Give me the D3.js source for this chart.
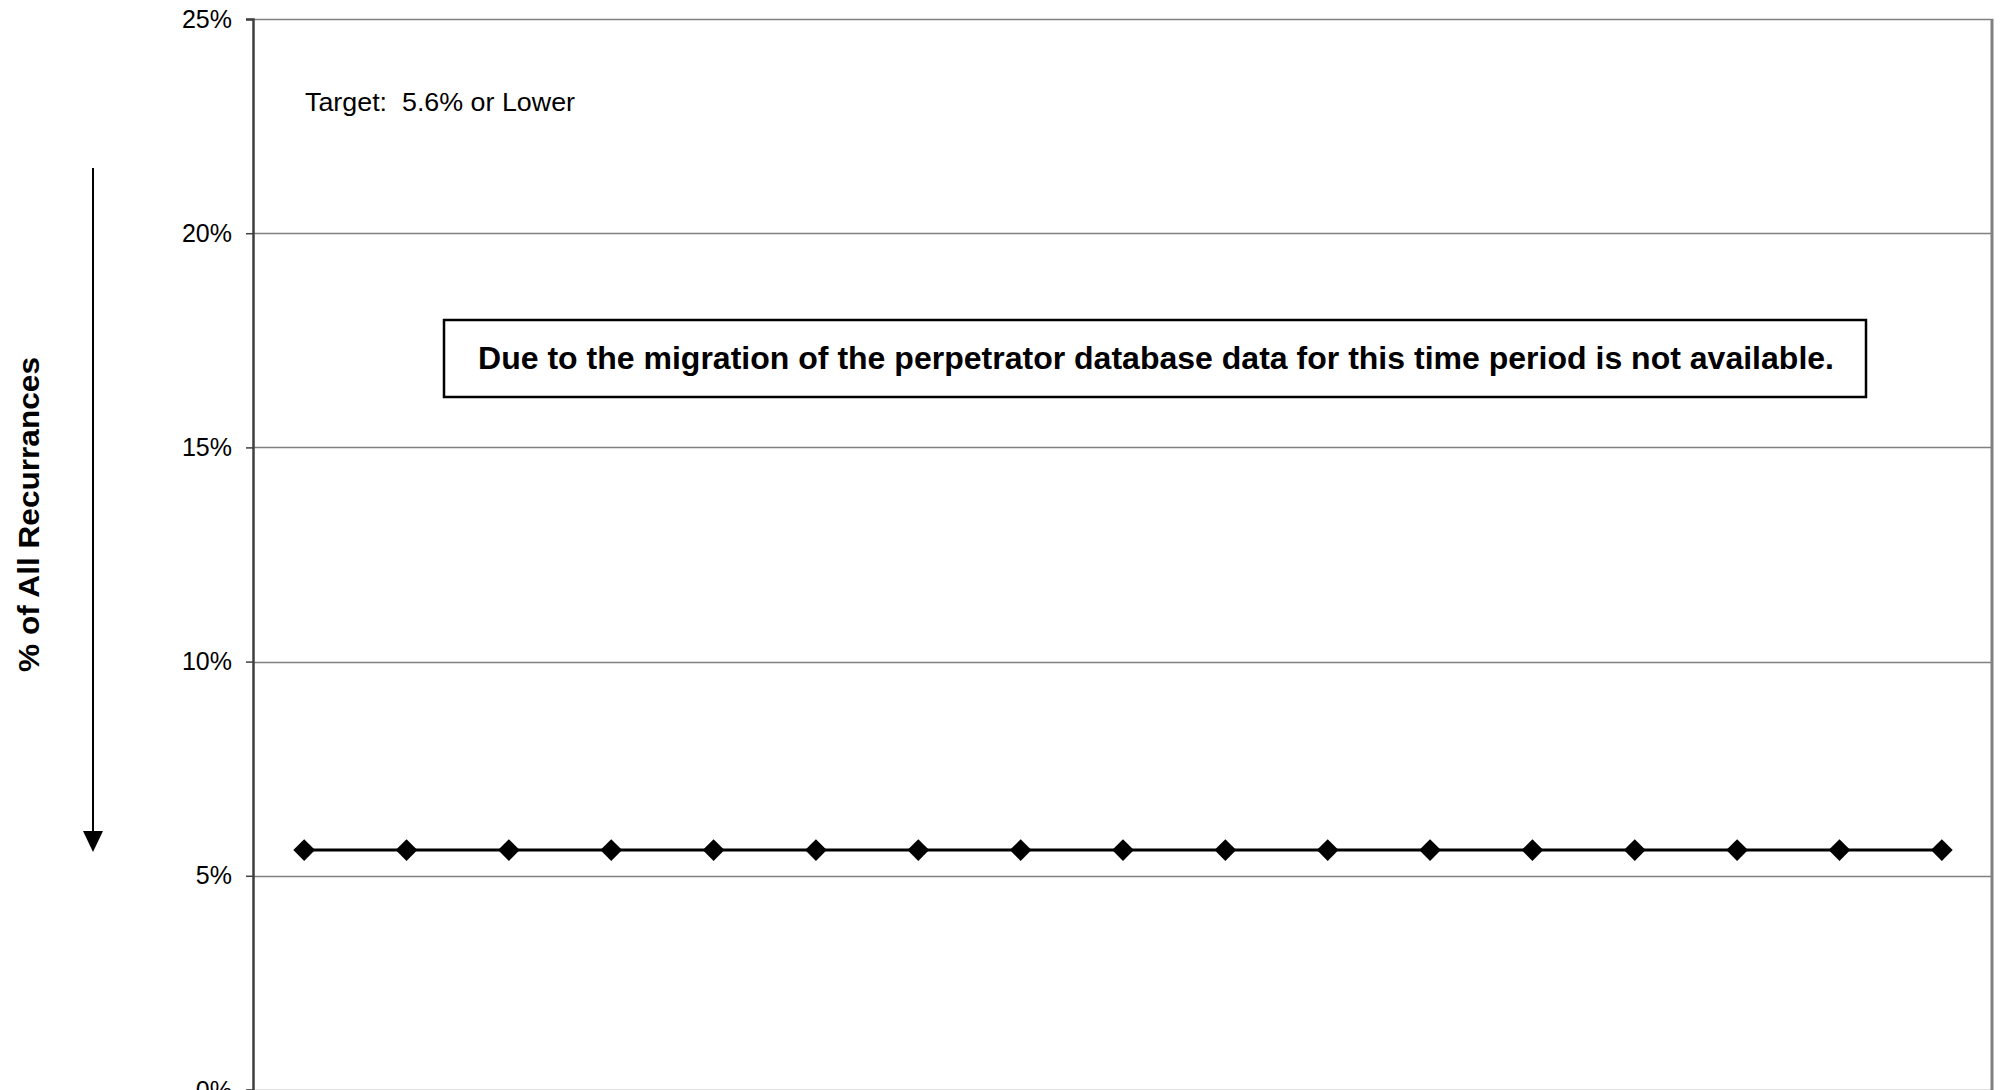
<!DOCTYPE html>
<html>
<head>
<meta charset="utf-8">
<script src="https://cdn.jsdelivr.net/npm/d3@7"></script>
<style>
  html, body { margin: 0; padding: 0; background: #fff; }
  svg { display: block; }
  text { font-family: "Liberation Sans", Arial, sans-serif; }
</style>
</head>
<body>
<svg id="chart" width="2001" height="1090"></svg>
<script>
// ---- data ----
const categories = ["P1","P2","P3","P4","P5","P6","P7","P8","P9","P10","P11","P12","P13","P14","P15","P16","P17"];
const targetValues = [5.6,5.6,5.6,5.6,5.6,5.6,5.6,5.6,5.6,5.6,5.6,5.6,5.6,5.6,5.6,5.6,5.6];
const yTicks = [0, 5, 10, 15, 20, 25];
const yTickLabels = ["0%", "5%", "10%", "15%", "20%", "25%"];
const yTitle = "% of All Recurrances";
const targetNote = "Target:  5.6% or Lower";
const noticeText = "Due to the migration of the perpetrator database data for this time period is not available.";

// ---- layout ----
const svg = d3.select("#chart");
const plot = { left: 253, right: 1993, top: 19, bottom: 1090 };

const x = d3.scalePoint().domain(categories).range([plot.left, plot.right]).padding(0.5);
const y = d3.scaleLinear().domain([0, 25]).range([plot.bottom, plot.top]);

// gridlines
svg.append("g").selectAll("line").data(yTicks).join("line")
  .attr("x1", plot.left).attr("x2", plot.right)
  .attr("y1", d => Math.round(y(d)) + 0.5).attr("y2", d => Math.round(y(d)) + 0.5)
  .attr("stroke", "#808080").attr("stroke-width", 1.5);

// right border
svg.append("line")
  .attr("x1", plot.right - 1).attr("x2", plot.right - 1)
  .attr("y1", y(25)).attr("y2", plot.bottom)
  .attr("stroke", "#808080").attr("stroke-width", 3);

// y axis
const yAxis = d3.axisLeft(y).tickValues(yTicks)
  .tickFormat((d, i) => yTickLabels[i]).tickSize(7).tickPadding(14);
const gy = svg.append("g").attr("transform", `translate(${plot.left},0)`).call(yAxis);
gy.select(".domain").attr("stroke", "#404040").attr("stroke-width", 2.5);
gy.selectAll(".tick line").attr("stroke", "#404040").attr("stroke-width", 1.5);
gy.selectAll(".tick text").attr("font-size", 25).attr("fill", "#000")
  .attr("font-family", "'Liberation Sans', Arial, sans-serif");

// series line
const line = d3.line().x((d, i) => x(categories[i])).y(d => y(d));
svg.append("path").datum(targetValues)
  .attr("d", line).attr("fill", "none").attr("stroke", "#000").attr("stroke-width", 3);

// diamond markers
const diamond = d3.symbol().type(d3.symbolDiamond2).size(300);
svg.append("g").selectAll("path").data(targetValues).join("path")
  .attr("transform", (d, i) => `translate(${x(categories[i])},${y(d)})`)
  .attr("d", diamond).attr("fill", "#000");

// target note
svg.append("text").attr("x", 305).attr("y", 110.5)
  .attr("font-size", 25).attr("fill", "#000")
  .attr("textLength", 270).attr("lengthAdjust", "spacingAndGlyphs")
  .style("white-space", "pre").text(targetNote);

// notice box
svg.append("rect").attr("x", 444).attr("y", 320).attr("width", 1422).attr("height", 77)
  .attr("fill", "#fff").attr("stroke", "#000").attr("stroke-width", 2.5);
svg.append("text").attr("x", 478).attr("y", 369)
  .attr("font-size", 30.5).attr("font-weight", "bold").attr("fill", "#000")
  .attr("textLength", 1356).attr("lengthAdjust", "spacingAndGlyphs")
  .text(noticeText);

// y title
svg.append("text")
  .attr("transform", "translate(39,514.5) rotate(-90)")
  .attr("text-anchor", "middle")
  .attr("font-size", 30).attr("font-weight", "bold").attr("fill", "#000")
  .attr("textLength", 315).attr("lengthAdjust", "spacingAndGlyphs")
  .text(yTitle);

// arrow
svg.append("line").attr("x1", 93).attr("x2", 93).attr("y1", 168).attr("y2", 834)
  .attr("stroke", "#000").attr("stroke-width", 2);
svg.append("path").attr("d", d3.line()([[83, 831], [103, 831], [93, 852]]) + "Z")
  .attr("fill", "#000");
</script>
</body>
</html>
